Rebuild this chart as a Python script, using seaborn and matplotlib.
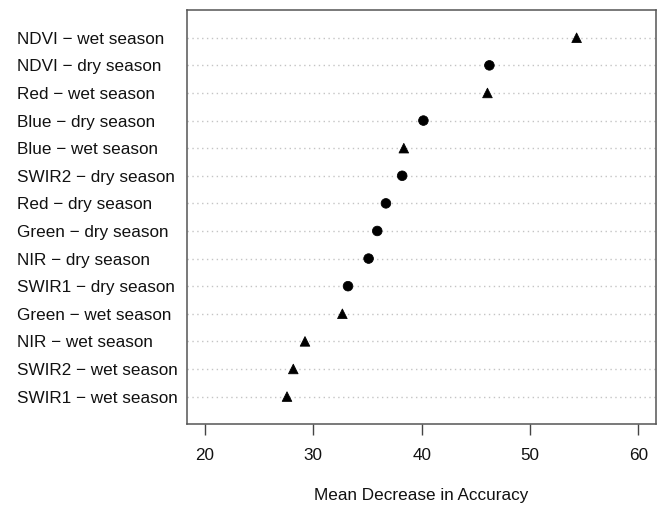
import numpy as np
import pandas as pd
import matplotlib
matplotlib.use('Agg')
import matplotlib.pyplot as plt
import seaborn as sns

# variables from top to bottom, with their importance
variables = ['NDVI − wet season', 'NDVI − dry season', 'Red − wet season',
             'Blue − dry season', 'Blue − wet season', 'SWIR2 − dry season',
             'Red − dry season', 'Green − dry season', 'NIR − dry season',
             'SWIR1 − dry season', 'Green − wet season', 'NIR − wet season',
             'SWIR2 − wet season', 'SWIR1 − wet season']
importance = [54.3, 46.25, 46.07, 40.16, 38.35, 38.2, 36.7,
              35.9, 35.1, 33.2, 32.68, 29.23, 28.15, 27.57]
x_ticks = [20, 30, 40, 50, 60]

df = pd.DataFrame({'variable': variables, 'importance': importance})
df['season'] = df['variable'].str.split(' − ').str[1]
df['ypos'] = len(df) - np.arange(len(df))

sns.set_theme(style='white')
plt.rcParams['font.family'] = ['Liberation Sans', 'DejaVu Sans']
fs = 12.3

fig = plt.figure(figsize=(6.61, 5.08), dpi=100)
ax = fig.add_axes([0.2834, 0.165, 0.7086, 0.815])

# dotted guide lines like R's dotchart
ax.set_yticks(df['ypos'])
ax.set_yticklabels(df['variable'])
ax.yaxis.grid(True, linestyle=(0, (1, 2.5)), color='#c4c4c4', linewidth=1)
ax.set_axisbelow(True)

sns.scatterplot(data=df, x='importance', y='ypos', style='season',
                markers={'dry season': 'o', 'wet season': '^'},
                color='black', edgecolor='black', s=48, legend=False,
                zorder=3, ax=ax)

ax.set_xlim(18.37, 61.6)
ax.set_ylim(0, len(df) + 1)
ax.set_xticks(x_ticks)
ax.set_xticklabels([str(t) for t in x_ticks])

ax.tick_params(axis='y', length=0, pad=122.6, labelsize=fs, labelcolor='#111111')
for lab in ax.get_yticklabels():
    lab.set_ha('left')
ax.tick_params(axis='x', bottom=True, length=8, width=1, direction='out',
               color='#444444', pad=9.5, labelsize=fs, labelcolor='#111111')

ax.set_xlabel('Mean Decrease in Accuracy', fontsize=fs, labelpad=18, color='#111111')
ax.set_ylabel('')

for sp in ax.spines.values():
    sp.set_color('#555555')
    sp.set_linewidth(1.1)

fig.savefig('out.png', dpi=100)
